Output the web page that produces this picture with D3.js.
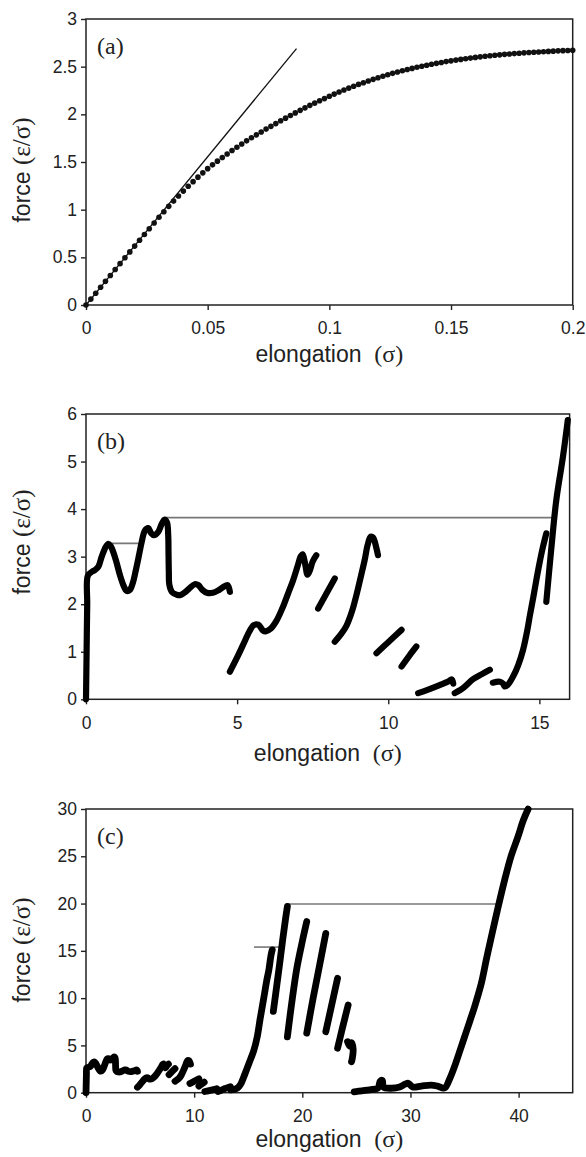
<!DOCTYPE html>
<html>
<head>
<meta charset="utf-8">
<script src="https://cdnjs.cloudflare.com/ajax/libs/d3/7.8.5/d3.min.js"></script>
<style>
    body { margin: 0; background: #fff; }
    svg text { font-family: "Liberation Sans", Arial, sans-serif; fill: #222; }
    .serif { font-family: "Liberation Serif", "Times New Roman", serif; }
</style>
</head>
<body>
<svg id="chart" width="586" height="1157"></svg>
<script>
// (a) small elongation, dotted
const elongA = [0, 0.002, 0.004, 0.006, 0.008, 0.01, 0.012, 0.014, 0.016, 0.018,
    0.02, 0.022, 0.024, 0.026, 0.028, 0.03, 0.032, 0.034, 0.036, 0.038,
    0.04, 0.042, 0.044, 0.046, 0.048, 0.05, 0.052, 0.054, 0.056, 0.058,
    0.06, 0.062, 0.064, 0.066, 0.068, 0.07, 0.072, 0.074, 0.076, 0.078,
    0.08, 0.082, 0.084, 0.086, 0.088, 0.09, 0.092, 0.094, 0.096, 0.098,
    0.1, 0.102, 0.104, 0.106, 0.108, 0.11, 0.112, 0.114, 0.116, 0.118,
    0.12, 0.122, 0.124, 0.126, 0.128, 0.13, 0.132, 0.134, 0.136, 0.138,
    0.14, 0.142, 0.144, 0.146, 0.148, 0.15, 0.152, 0.154, 0.156, 0.158,
    0.16, 0.162, 0.164, 0.166, 0.168, 0.17, 0.172, 0.174, 0.176, 0.178,
    0.18, 0.182, 0.184, 0.186, 0.188, 0.19, 0.192, 0.194, 0.196, 0.198, 0.2];
const forceA = [0, 0.062, 0.124, 0.186, 0.248, 0.31, 0.372, 0.434, 0.495, 0.557,
    0.618, 0.679, 0.74, 0.8, 0.86, 0.92, 0.978, 1.035, 1.09, 1.143,
    1.195, 1.245, 1.294, 1.341, 1.386, 1.43, 1.47, 1.509, 1.547, 1.584,
    1.62, 1.655, 1.689, 1.722, 1.754, 1.785, 1.815, 1.845, 1.874, 1.903,
    1.932, 1.96, 1.988, 2.015, 2.042, 2.068, 2.094, 2.118, 2.142, 2.165,
    2.19, 2.212, 2.234, 2.255, 2.275, 2.295, 2.314, 2.332, 2.35, 2.367,
    2.384, 2.4, 2.415, 2.43, 2.444, 2.457, 2.47, 2.482, 2.494, 2.505,
    2.515, 2.525, 2.535, 2.544, 2.553, 2.561, 2.569, 2.576, 2.583, 2.59,
    2.597, 2.603, 2.609, 2.614, 2.619, 2.624, 2.629, 2.633, 2.637, 2.641,
    2.645, 2.648, 2.651, 2.654, 2.657, 2.66, 2.663, 2.666, 2.668, 2.67, 2.672];
const tangentA = [[0, 0], [0.0865, 2.69]];

// (b) full pull, stick-slip pieces
const segmentsB = [
    [[0, 0], [0.02, 1.0], [0.04, 2.0], [0.06, 2.6], [0.19, 2.68], [0.3, 2.72], [0.41, 2.79], [0.52, 3.0],
     [0.65, 3.2], [0.74, 3.27], [0.82, 3.22], [0.9, 3.1], [1.0, 2.9], [1.12, 2.62], [1.25, 2.38],
     [1.34, 2.28], [1.45, 2.3], [1.55, 2.45], [1.65, 2.72], [1.75, 3.02], [1.84, 3.3], [1.95, 3.55],
     [2.06, 3.6], [2.15, 3.5], [2.25, 3.45], [2.39, 3.52], [2.5, 3.68], [2.6, 3.78], [2.68, 3.72],
     [2.72, 3.45], [2.73, 3.1], [2.74, 2.7], [2.76, 2.4], [2.85, 2.25], [3.0, 2.2], [3.11, 2.19],
     [3.25, 2.24], [3.4, 2.32], [3.6, 2.42], [3.72, 2.4], [3.85, 2.3], [4.0, 2.24], [4.2, 2.24],
     [4.4, 2.3], [4.54, 2.36], [4.68, 2.4], [4.74, 2.32], [4.76, 2.26]],
    [[4.76, 0.58], [5.0, 0.88], [5.2, 1.15], [5.4, 1.42], [5.55, 1.56], [5.7, 1.57], [5.85, 1.45],
     [5.95, 1.43], [6.1, 1.48], [6.3, 1.65], [6.5, 1.92], [6.7, 2.25], [6.85, 2.5], [7.0, 2.8],
     [7.1, 3.0], [7.17, 3.05], [7.25, 2.85], [7.33, 2.62], [7.4, 2.7], [7.5, 2.9], [7.62, 3.03]],
    [[7.68, 1.91], [7.95, 2.22], [8.23, 2.54]],
    [[8.23, 1.21], [8.45, 1.38], [8.62, 1.55], [8.8, 1.85], [8.95, 2.2], [9.1, 2.6], [9.22, 2.93],
     [9.32, 3.25], [9.42, 3.42], [9.5, 3.4], [9.6, 3.2], [9.66, 3.03]],
    [[9.61, 0.97], [10.0, 1.2], [10.44, 1.46]],
    [[10.44, 0.69], [10.7, 0.92], [10.93, 1.11]],
    [[10.99, 0.13], [11.3, 0.2], [11.7, 0.3], [12.0, 0.38], [12.1, 0.42], [12.15, 0.33]],
    [[12.2, 0.13], [12.5, 0.25], [12.8, 0.42], [13.1, 0.53], [13.36, 0.62]],
    [[13.46, 0.35], [13.69, 0.37], [13.8, 0.33], [13.85, 0.27], [13.95, 0.3], [14.13, 0.48],
     [14.3, 0.72], [14.46, 1.04], [14.6, 1.45], [14.68, 1.74], [14.8, 2.15], [14.9, 2.51],
     [15.0, 2.85], [15.12, 3.21], [15.23, 3.49]],
    [[15.23, 2.05], [15.39, 3.14], [15.56, 4.19], [15.78, 5.1], [15.94, 5.87]]
];
const levelsB = [[0.74, 1.79, 3.28], [2.64, 15.47, 3.82]];

// (c) longer pull, later part (the start is the same as (b))
const segmentsC = [
    [[13.4, 0.3], [13.7, 0.35], [14.0, 0.5], [14.3, 0.9], [14.6, 1.7], [14.9, 2.6], [15.2, 3.5],
     [15.5, 4.4], [15.83, 5.9], [16.1, 7.8], [16.45, 10.1], [16.7, 11.8], [16.91, 13.0],
     [17.1, 14.5], [17.22, 15.1]],
    [[17.32, 8.6], [17.6, 11.0], [17.9, 13.6], [18.2, 16.3], [18.45, 18.4], [18.62, 19.7]],
    [[18.62, 5.9], [19.0, 9.3], [19.5, 13.2], [20.0, 16.0], [20.41, 18.1]],
    [[20.41, 6.3], [21.0, 10.0], [21.6, 13.5], [22.17, 16.85]],
    [[22.17, 6.45], [22.7, 9.2], [23.26, 12.1]],
    [[23.26, 4.7], [23.7, 6.8], [24.24, 9.27]],
    [[24.18, 5.4], [24.4, 4.9], [24.55, 5.3], [24.7, 4.6], [24.6, 3.5], [24.55, 3.28]],
    [[24.8, 0.1], [25.5, 0.2], [26.5, 0.35], [27.0, 0.5], [27.2, 1.2], [27.4, 1.3], [27.5, 0.6],
     [28.2, 0.47], [29.0, 0.6], [29.5, 0.9], [29.8, 1.0], [30.2, 0.6], [31.0, 0.7], [31.9, 0.8],
     [32.5, 0.7], [33.15, 0.5], [33.6, 1.4], [34.07, 2.75], [34.5, 4.2], [35.0, 5.9], [35.5, 7.6],
     [35.93, 9.1], [36.55, 11.56], [37.0, 14.0], [37.48, 16.5], [38.1, 19.6], [38.71, 22.5],
     [39.3, 25.0], [39.95, 27.1], [40.4, 28.7], [40.88, 30.0]]
];
const levelsC = [[15.53, 18.0, 15.4], [18.62, 38.25, 19.95]];

const xTicksA = [0, 0.05, 0.1, 0.15, 0.2];
const yTicksA = [0, 0.5, 1, 1.5, 2, 2.5, 3];
const xTicksB = [0, 5, 10, 15];
const yTicksB = [0, 1, 2, 3, 4, 5, 6];
const xTicksC = [0, 10, 20, 30, 40];
const yTicksC = [0, 5, 10, 15, 20, 25, 30];

const svg = d3.select("#chart");

const panels = [
    { tag: "(a)", left: 86, right: 572.7, top: 19, bottom: 305, xDomain: [0, 0.2], yDomain: [0, 3],
      xTicks: xTicksA, yTicks: yTicksA, yLabelAt: 170, xTitleAt: 362, lineWidth: 6 },
    { tag: "(b)", left: 86, right: 569.6, top: 414, bottom: 699.3, xDomain: [0, 16], yDomain: [0, 6],
      xTicks: xTicksB, yTicks: yTicksB, yLabelAt: 542, xTitleAt: 761, lineWidth: 6.2 },
    { tag: "(c)", left: 86, right: 572.7, top: 809, bottom: 1092.7, xDomain: [0, 45], yDomain: [0, 30],
      xTicks: xTicksC, yTicks: yTicksC, yLabelAt: 950, xTitleAt: 1147, lineWidth: 6.8 }
];

function drawFrame(p) {
    const x = d3.scaleLinear().domain(p.xDomain).range([p.left, p.right]);
    const y = d3.scaleLinear().domain(p.yDomain).range([p.bottom, p.top]);

    svg.append("rect")
        .attr("x", p.left).attr("y", p.top)
        .attr("width", p.right - p.left).attr("height", p.bottom - p.top)
        .attr("fill", "none").attr("stroke", "#222").attr("stroke-width", 1.5);

    const xAxis = svg.append("g")
        .attr("transform", `translate(0,${p.bottom})`)
        .call(d3.axisBottom(x).tickValues(p.xTicks).tickSize(5).tickPadding(12).tickFormat(d => d));
    const yAxis = svg.append("g")
        .attr("transform", `translate(${p.left},0)`)
        .call(d3.axisLeft(y).tickValues(p.yTicks).tickSize(5).tickPadding(4).tickFormat(d => d));

    [xAxis, yAxis].forEach(g => {
        g.select(".domain").remove();
        g.selectAll(".tick line").attr("stroke", "#222").attr("stroke-width", 1.4);
        g.selectAll(".tick text").attr("font-size", 17.5).attr("fill", "#222")
            .style("font-family", '"Liberation Sans", Arial, sans-serif');
    });

    svg.append("text")
        .attr("class", "serif")
        .attr("x", p.left + 11).attr("y", p.top + 35)
        .attr("font-size", 24)
        .text(p.tag);

    const xt = svg.append("text")
        .attr("x", (p.left + p.right) / 2).attr("y", p.xTitleAt)
        .attr("text-anchor", "middle").attr("font-size", 23)
        .attr("xml:space", "preserve");
    xt.append("tspan").text("elongation  ");
    xt.append("tspan").attr("class", "serif").attr("font-size", 24).text("(σ)");

    const yt = svg.append("text")
        .attr("transform", `translate(30,${p.yLabelAt}) rotate(-90)`)
        .attr("text-anchor", "middle").attr("font-size", 23);
    yt.append("tspan").text("force ");
    yt.append("tspan").attr("class", "serif").attr("font-size", 25).text("(ε/σ)");

    return { x, y, lineWidth: p.lineWidth };
}

function drawPieces(scales, pieces) {
    const line = d3.line()
        .x(d => scales.x(d[0]))
        .y(d => scales.y(d[1]))
        .curve(d3.curveCatmullRom.alpha(0.5));
    svg.append("g").selectAll("path")
        .data(pieces)
        .join("path")
        .attr("d", line)
        .attr("fill", "none")
        .attr("stroke", "#000")
        .attr("stroke-width", scales.lineWidth)
        .attr("stroke-linecap", "round")
        .attr("stroke-linejoin", "round");
}

function drawLevels(scales, levels) {
    svg.append("g").selectAll("line")
        .data(levels)
        .join("line")
        .attr("x1", d => scales.x(d[0]))
        .attr("x2", d => scales.x(d[1]))
        .attr("y1", d => scales.y(d[2]))
        .attr("y2", d => scales.y(d[2]))
        .attr("stroke", "#777")
        .attr("stroke-width", 1.6);
}

// (a)
const sa = drawFrame(panels[0]);
svg.append("line")
    .attr("x1", sa.x(tangentA[0][0])).attr("y1", sa.y(tangentA[0][1]))
    .attr("x2", sa.x(tangentA[1][0])).attr("y2", sa.y(tangentA[1][1]))
    .attr("stroke", "#111").attr("stroke-width", 1.3);
svg.append("g").selectAll("circle")
    .data(elongA)
    .join("circle")
    .attr("cx", d => sa.x(d))
    .attr("cy", (d, i) => sa.y(forceA[i]))
    .attr("r", 2.8)
    .attr("fill", "#111");

// (b)
const sb = drawFrame(panels[1]);
drawLevels(sb, levelsB);
drawPieces(sb, segmentsB);

// (c)
const sc = drawFrame(panels[2]);
drawLevels(sc, levelsC);
drawPieces(sc, segmentsB.slice(0, 8).concat(segmentsC));
</script>
</body>
</html>
